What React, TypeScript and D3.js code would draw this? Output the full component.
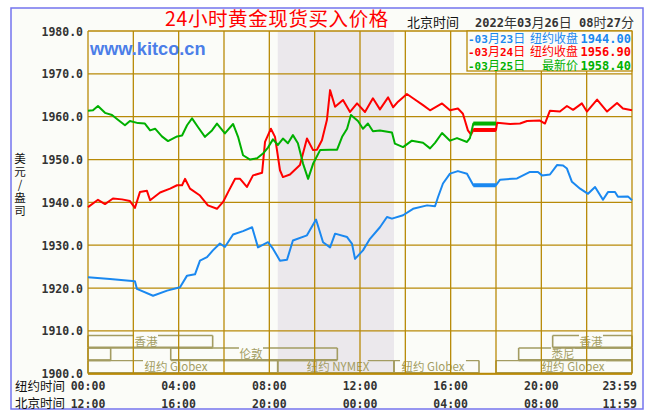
import React from "react";
import * as d3 from "d3";

// price axis + time labels
const yTicks = [1900, 1910, 1920, 1930, 1940, 1950, 1960, 1970, 1980];
const tickHours = [0, 4, 8, 12, 16, 20, 24];
const nyTimes = ["00:00", "04:00", "08:00", "12:00", "16:00", "20:00", "23:59"];
const bjTimes = ["12:00", "16:00", "20:00", "00:00", "04:00", "08:00", "11:59"];

// [New York hour, price]
const day0323: [number, number][] = [
  [0, 1922.5], [0.97, 1922.1], [2.07, 1921.6], [2.16, 1919.8], [2.87, 1918.2], [3.49, 1919.4],
  [4.06, 1920.2], [4.37, 1922.9], [4.72, 1923.2], [4.94, 1926.4], [5.25, 1927.2], [5.51, 1928.8],
  [5.82, 1930.4], [6.04, 1929.6], [6.4, 1932.5], [6.84, 1933.3], [7.24, 1934.2], [7.5, 1929.5],
  [7.94, 1930.7], [8.16, 1929.2], [8.47, 1926.4], [8.78, 1926.6], [9.04, 1931.1], [9.66, 1932.3],
  [10.06, 1936.0], [10.37, 1930.7], [10.68, 1929.5], [10.9, 1932.7], [11.43, 1931.9], [11.65, 1930.3],
  [11.78, 1926.8], [12.13, 1928.8], [12.44, 1931.5], [12.88, 1934.2], [13.19, 1936.6], [13.41, 1936.2],
  [13.9, 1937.0], [14.34, 1938.5], [14.96, 1939.3], [15.31, 1939.1], [15.44, 1941.2], [15.66, 1944.4],
  [15.97, 1946.7], [16.32, 1947.3], [16.72, 1946.7], [17.0, 1944.0],
  [18.0, 1944.0], [18.18, 1945.3], [18.93, 1945.6], [19.5, 1947.1], [19.85, 1947.1], [20.03, 1946.3],
  [20.38, 1946.5], [20.69, 1948.7], [20.96, 1948.6], [21.13, 1947.9], [21.35, 1944.8], [21.71, 1943.2],
  [22.06, 1942.0], [22.37, 1943.6], [22.72, 1940.6], [22.94, 1942.4], [23.25, 1942.4], [23.38, 1941.3],
  [23.82, 1941.4], [24, 1940.5],
];
const day0324: [number, number][] = [
  [0, 1938.9], [0.44, 1940.6], [0.75, 1939.6], [1.1, 1940.9], [1.5, 1940.7], [1.85, 1940.3],
  [2.07, 1938.7], [2.29, 1942.4], [2.6, 1942.7], [2.74, 1940.5], [3.18, 1942.3], [3.62, 1943.2],
  [3.93, 1944.0], [4.15, 1944.0], [4.28, 1945.5], [4.5, 1943.2], [4.94, 1941.6], [5.29, 1939.3],
  [5.69, 1938.5], [5.96, 1940.1], [6.18, 1942.4], [6.49, 1945.5], [6.71, 1945.5], [7.01, 1943.6],
  [7.28, 1946.3], [7.68, 1946.9], [7.81, 1954.1], [8.07, 1957.2], [8.25, 1955.3], [8.47, 1947.5],
  [8.6, 1945.9], [8.91, 1946.5], [9.35, 1948.7], [9.66, 1954.9], [9.93, 1952.2], [10.1, 1952.3],
  [10.32, 1954.5], [10.54, 1959.2], [10.68, 1966.2], [10.9, 1962.3], [11.25, 1963.9], [11.56, 1961.1],
  [11.87, 1963.1], [12.22, 1961.1], [12.57, 1964.3], [12.88, 1961.7], [13.24, 1964.5], [13.46, 1962.2],
  [13.68, 1963.5], [14.07, 1965.3], [14.34, 1964.3], [14.78, 1962.7], [15.09, 1961.5], [15.62, 1963.1],
  [15.97, 1961.5], [16.32, 1961.9], [16.54, 1960.7], [16.76, 1956.8], [16.9, 1955.8], [17.0, 1956.9],
  [18.0, 1956.9], [18.05, 1958.6], [18.62, 1958.3], [19.06, 1958.4], [19.37, 1959.0], [19.94, 1959.1],
  [20.16, 1958.4], [20.38, 1961.4], [20.82, 1961.2], [21.13, 1962.5], [21.4, 1961.6], [21.79, 1963.1],
  [22.01, 1961.2], [22.46, 1964.0], [22.9, 1961.2], [23.34, 1963.2], [23.6, 1961.9], [24, 1961.5],
];
const day0325: [number, number][] = [
  [0, 1961.4], [0.22, 1961.5], [0.44, 1962.5], [0.75, 1960.9], [1.06, 1960.4], [1.32, 1959.3],
  [1.63, 1958.0], [1.85, 1959.0], [2.21, 1958.5], [2.51, 1958.4], [2.74, 1956.8], [2.96, 1957.2],
  [3.26, 1955.4], [3.53, 1954.3], [3.93, 1955.4], [4.15, 1955.6], [4.37, 1958.0], [4.59, 1959.6],
  [4.85, 1957.6], [5.16, 1955.3], [5.47, 1956.8], [5.69, 1958.4], [6.04, 1956.1], [6.4, 1958.3],
  [6.62, 1955.3], [6.84, 1951.0], [7.15, 1950.0], [7.46, 1950.3], [7.72, 1951.4], [7.94, 1952.8],
  [8.16, 1954.7], [8.38, 1953.4], [8.6, 1954.9], [8.82, 1953.8], [9.04, 1955.7], [9.26, 1953.8],
  [9.49, 1949.0], [9.71, 1945.5], [9.93, 1949.0], [10.24, 1952.2], [10.68, 1952.3], [10.99, 1952.3],
  [11.21, 1955.3], [11.43, 1957.2], [11.6, 1960.4], [11.91, 1959.0], [12.13, 1957.2], [12.35, 1958.4],
  [12.57, 1956.6], [12.88, 1956.8], [13.41, 1956.3], [13.54, 1953.7], [13.9, 1952.9], [14.29, 1954.4],
  [14.78, 1953.9], [15.09, 1952.6], [15.31, 1953.9], [15.62, 1956.2], [15.97, 1954.4], [16.28, 1955.0],
  [16.72, 1954.1], [16.85, 1955.0], [17.0, 1958.4], [18.0, 1958.4],
];

const closeWindow = [17.0, 18.0];
const nymexWindow = [8.37, 13.5];

const legendRows = [
  { date: "-03月23日", label: "纽约收盘", price: "1944.00", color: "#1a88f0", data: day0323 },
  { date: "-03月24日", label: "纽约收盘", price: "1956.90", color: "#ff0000", data: day0324 },
  { date: "-03月25日", label: "最新价", price: "1958.40", color: "#00b000", data: day0325 },
];

// market session bars: row, start hour, end hour, label, label centre hour
const sessions = [
  { name: "香港", row: 0, start: 0, end: 5.5, at: 2.56 },
  { name: "香港", row: 0, start: 20.5, end: 24, at: 22.19 },
  { name: "", row: 1, start: 0, end: 1, at: 0 },
  { name: "伦敦", row: 1, start: 3.65, end: 11, at: 7.19 },
  { name: "悉尼", row: 1, start: 19, end: 24, at: 20.96 },
  { name: "纽约 Globex", row: 2, start: 0, end: 8.37, at: 3.88 },
  { name: "纽约 NYMEX", row: 2, start: 8.37, end: 13.5, at: 11.03 },
  { name: "纽约 Globex", row: 2, start: 13.5, end: 17.25, at: 15.22 },
  { name: "纽约 Globex", row: 2, start: 18, end: 24, at: 21.4 },
];

const W = 646;
const H = 416;
const plot = { left: 88, right: 632, top: 31, bottom: 373.75 };
const GRID = "#b88a08";
const BAR = "#a39c62";
const BG = "#fbfcf8";
const MONO = "'DejaVu Sans Mono', monospace";
const CJK = "'Noto Sans CJK SC', sans-serif";

// splits a string into ascii / cjk runs so digits get the bold mono face
function Mixed(props: {
  x: number; y: number; text: string; size: number; cjkSize?: number;
  fill: string; anchor?: string;
}) {
  const runs = props.text.match(/[\x00-\x7f]+|[^\x00-\x7f]+/g) || [];
  return (
    <text x={props.x} y={props.y} fill={props.fill} textAnchor={props.anchor || "start"} style={{ whiteSpace: "pre" }}>
      {runs.map((r, i) =>
        /^[\x00-\x7f]+$/.test(r) ? (
          <tspan key={i} fontFamily={MONO} fontWeight={700} fontSize={props.size}>{r}</tspan>
        ) : (
          <tspan key={i} fontFamily={CJK} fontSize={props.cjkSize || props.size}>{r}</tspan>
        )
      )}
    </text>
  );
}

export default function App() {
  const x = d3.scaleLinear().domain([0, 24]).range([plot.left, plot.right]);
  const y = d3.scaleLinear().domain([1900, 1980]).range([plot.bottom, plot.top]);
  const line = d3.line<[number, number]>().x((d) => x(d[0])).y((d) => y(d[1]));

  const rowTop = [335.5, 348, 360.6];
  const rowBottom = [347.6, 360.2, 373];

  const labelWidth = (s: string) =>
    Array.from(s).reduce((w, c) => w + (c.charCodeAt(0) > 127 ? 11 : c === " " ? 3.5 : 6.4), 0);

  return (
    <svg width={W} height={H} style={{ position: "absolute", left: 0, top: 0, background: "#fff" }}>
      <rect x={11} y={8} width={632} height={401} fill={BG} stroke="#7474ee" strokeWidth={1.5} />

      <rect x={x(nymexWindow[0])} y={plot.top} width={x(nymexWindow[1]) - x(nymexWindow[0])}
        height={plot.bottom - plot.top} fill="#ebe8ec" />

      {/* session bars */}
      {sessions.map((s, i) => {
        const x0 = x(s.start);
        const x1 = x(s.end);
        const t = rowTop[s.row];
        const b = rowBottom[s.row];
        const lw = s.name ? labelWidth(s.name) : 0;
        const lc = x(s.at);
        const topPath = s.name
          ? `M${x0},${t}H${lc - lw / 2 - 1}M${lc + lw / 2 + 1},${t}H${x1}`
          : `M${x0},${t}H${x1}`;
        return (
          <g key={i}>
            <path d={topPath} stroke={BAR} strokeWidth={1.3} fill="none" />
            <path d={`M${x0},${t}V${b}M${x1},${t}V${b}`} stroke={BAR} strokeWidth={1.6} fill="none" />
            <path d={`M${x0},${b}H${x1}`} stroke={BAR} strokeWidth={2.2} fill="none" />
            {s.name && (
              <text x={lc} y={t + 10} textAnchor="middle" fontFamily={CJK} fontSize={11.5} fill={BAR}>
                {s.name}
              </text>
            )}
          </g>
        );
      })}

      {/* grid */}
      {yTicks.map((v) => (
        <line key={v} x1={plot.left} x2={plot.right} y1={y(v)} y2={y(v)} stroke={GRID} strokeWidth={1.3} />
      ))}
      {d3.range(0, 25, 2).map((h) => (
        <line key={h} x1={x(h)} x2={x(h)} y1={plot.top} y2={plot.bottom} stroke={GRID} strokeWidth={1.3} />
      ))}
      <line x1={plot.left} x2={plot.right} y1={plot.bottom} y2={plot.bottom} stroke={GRID} strokeWidth={2} />

      {/* series */}
      {legendRows.map((r) => (
        <g key={r.date}>
          <path d={line(r.data.filter((d) => d[0] <= closeWindow[0] || d[0] >= closeWindow[1])) || ""}
            fill="none" stroke={r.color} strokeWidth={2} strokeLinejoin="round" />
          <path d={line(r.data.filter((d) => d[0] >= closeWindow[0] && d[0] <= closeWindow[1])) || ""}
            fill="none" stroke={r.color} strokeWidth={4} />
        </g>
      ))}

      {/* y axis */}
      {yTicks.map((v) => (
        <text key={v} x={83} y={y(v) + 4.5} textAnchor="end" fontFamily={MONO} fontWeight={700}
          fontSize={11.5} fill="#333">
          {v.toFixed(1)}
        </text>
      ))}
      <text x={20} y={163} textAnchor="middle" fontFamily={CJK} fontSize={11.5} fill="#111">
        {Array.from("美元/盎司").map((c, i) => (
          <tspan key={i} x={20} dy={i === 0 ? 0 : 13}>{c}</tspan>
        ))}
      </text>

      {/* x axis */}
      <text x={15} y={391} fontFamily={CJK} fontSize={12.5} fill="#111">纽约时间</text>
      <text x={15} y={408} fontFamily={CJK} fontSize={12.5} fill="#111">北京时间</text>
      {tickHours.map((h, i) => (
        <g key={h} fontFamily={MONO} fontWeight={700} fontSize={11.5} fill="#333" textAnchor={h === 24 ? "end" : "middle"}>
          <text x={h === 24 ? 637 : x(h)} y={390}>{nyTimes[i]}</text>
          <text x={h === 24 ? 637 : x(h)} y={407.5}>{bjTimes[i]}</text>
        </g>
      ))}

      {/* headings */}
      <text x={277} y={25.5} textAnchor="middle" fontFamily={CJK} fontSize={19.5} letterSpacing={0.6} fill="#ff0000">
        24小时黄金现货买入价格
      </text>
      <text x={407} y={27} fontFamily={CJK} fontSize={13} fill="#111">北京时间</text>
      <Mixed x={475} y={27} text="2022年03月26日 08时27分" size={12} cjkSize={13} fill="#333" />
      <text x={90} y={55} fontFamily="'Liberation Sans', Arial, sans-serif" fontWeight={700} fontSize={18.2} fill="#4b7ee8">
        www.kitco.cn
      </text>

      {/* legend */}
      <rect x={467} y={31} width={165} height={40} fill={BG} stroke={GRID} strokeWidth={1.3} />
      {legendRows.map((r, i) => (
        <g key={r.date}>
          <Mixed x={468} y={42.5 + i * 13.5} text={r.date} size={11} cjkSize={12} fill={r.color} />
          <text x={578} y={42.5 + i * 13.5} textAnchor="end" fontFamily={CJK} fontSize={12} fill={r.color}>
            {r.label}
          </text>
          <text x={631} y={42.5 + i * 13.5} textAnchor="end" fontFamily={MONO} fontWeight={700} fontSize={12} fill={r.color}>
            {r.price}
          </text>
        </g>
      ))}
    </svg>
  );
}
